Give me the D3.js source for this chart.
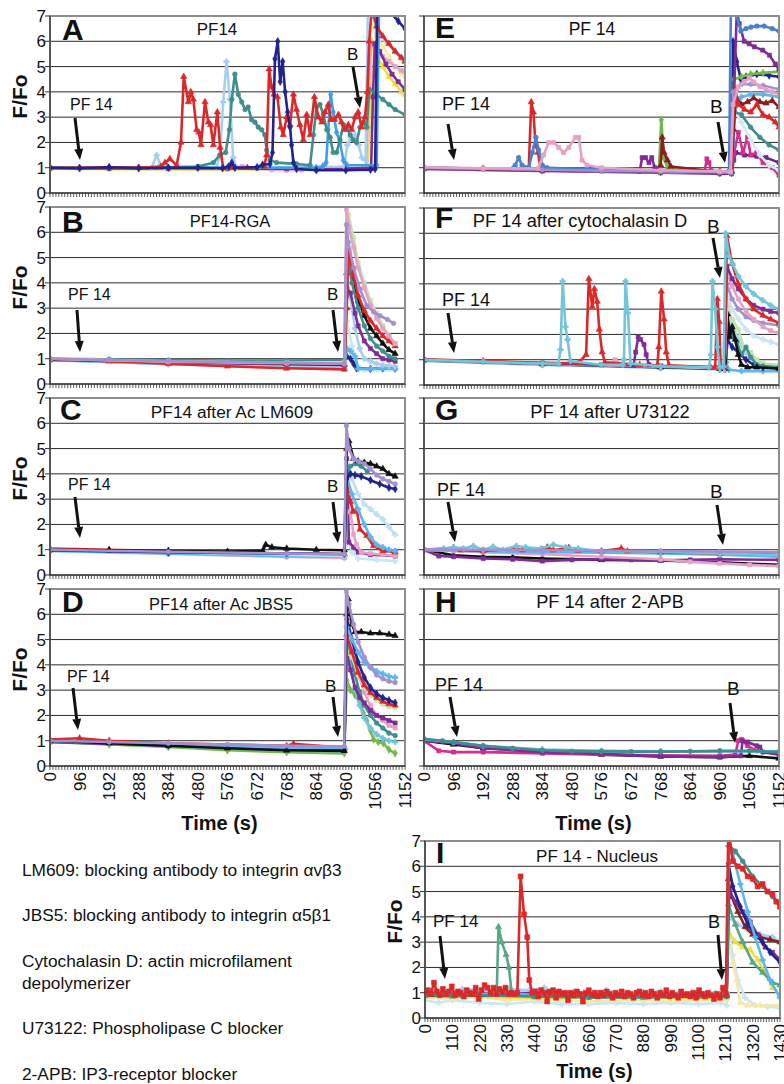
<!DOCTYPE html>
<html><head><meta charset="utf-8">
<script src="https://cdn.jsdelivr.net/npm/d3@7"></script>
<style>body{margin:0;background:#fff}svg{display:block}text{font-family:"Liberation Sans",Arial,sans-serif;fill:#111}</style>
</head><body><svg id="c" width="784" height="1084"></svg>
<script>
// ---------------- DATA ----------------
const yTickValues = [0,1,2,3,4,5,6,7];
const xTickLabels1152 = [0,96,192,288,384,480,576,672,768,864,960,1056,1152];
const xTickLabels1430 = [0,110,220,330,440,550,660,770,880,990,1100,1210,1320,1430];
const panelTitles = ["PF14","PF14-RGA","PF14 after Ac LM609","PF14 after Ac JBS5","PF 14","PF 14 after cytochalasin D","PF 14 after U73122","PF 14 after 2-APB","PF 14 - Nucleus"];
const panelLetters = ["A","B","C","D","E","F","G","H","I"];
const notes = ["LM609: blocking antibody to integrin \u03b1v\u03b23","JBS5: blocking antibody to integrin \u03b15\u03b21","Cytochalasin D: actin microfilament","depolymerizer","U73122: Phospholipase C blocker","2-APB: IP3-receptor blocker"];

// Panel A
const A_lightyellow=[[0,0.95],[192,0.94],[384,0.93],[576,0.92],[768,0.93],[960,0.94],[1030,0.96],[1040,6.6],[1060,6.2],[1080,5.8],[1100,5.4],[1120,5.0],[1140,4.7],[1152,4.6]];
const A_yellow=[[0,0.96],[192,0.95],[384,0.94],[576,0.95],[768,0.96],[960,0.97],[1030,1.0],[1036,2.6],[1044,6.0],[1060,5.4],[1080,5.0],[1100,4.6],[1120,4.3],[1140,4.0],[1152,3.9]];
const A_pink=[[0,1.0],[96,0.99],[192,0.98],[288,0.99],[384,0.98],[480,0.97],[576,0.98],[624,1.05],[672,0.96],[720,0.92],[768,0.9],[816,0.91],[864,0.92],[960,0.95],[1025,0.96],[1034,4.2],[1042,5.9],[1060,5.6],[1080,5.4],[1100,5.2],[1120,5.0],[1140,4.85],[1152,4.8]];
const A_purple=[[0,0.98],[192,0.97],[384,0.98],[576,0.97],[768,0.96],[960,0.97],[1042,1.0],[1048,3.8],[1054,5.9],[1070,5.6],[1090,5.1],[1110,4.7],[1130,4.4],[1152,4.1]];
const A_lightblue=[[0,1.0],[192,1.0],[330,1.0],[346,1.5],[358,1.1],[372,1.0],[540,1.0],[551,1.5],[562,3.6],[573,5.2],[584,3.7],[594,1.4],[605,1.0],[955,1.05],[965,1.9],[976,2.2],[990,2.3],[1002,1.9],[1012,1.4],[1024,1.3],[1032,7.6],[1060,6.5],[1090,6.0],[1120,5.6],[1152,5.3]];
const A_medblue=[[0,1.0],[288,1.0],[576,1.0],[864,1.0],[885,1.05],[896,1.2],[903,2.5],[911,3.9],[919,3.2],[930,2.4],[941,2.0],[952,1.3],[963,1.1],[1060,1.1],[1068,7.6],[1152,7.4]];
const A_teal=[[0,1.0],[192,1.0],[384,1.02],[480,1.05],[530,1.2],[551,1.5],[570,1.6],[582,2.5],[590,3.7],[600,4.7],[611,3.9],[622,3.6],[633,3.3],[643,3.4],[654,2.9],[665,2.8],[676,2.6],[687,2.5],[697,2.3],[703,1.7],[714,1.3],[735,1.2],[800,1.15],[844,1.1],[855,2.3],[865,3.4],[876,3.5],[887,3.1],[898,2.5],[909,2.2],[919,1.6],[930,1.6],[941,2.1],[952,2.7],[963,2.6],[974,2.3],[984,2.1],[995,2.0],[1006,2.6],[1017,2.8],[1028,2.6],[1036,4.1],[1060,3.9],[1080,3.7],[1100,3.5],[1120,3.3],[1152,3.1]];
const A_red=[[0,1.0],[96,1.0],[192,1.02],[288,1.0],[360,1.05],[373,1.2],[389,1.35],[411,1.1],[425,2.0],[434,4.6],[449,3.6],[457,4.0],[465,3.7],[476,2.5],[483,2.4],[490,1.9],[503,3.6],[514,2.8],[521,2.7],[530,1.9],[543,3.2],[552,1.8],[562,1.0],[640,1.0],[695,1.05],[703,1.5],[711,4.9],[719,4.2],[727,3.9],[738,3.8],[749,2.6],[757,2.3],[768,3.0],[779,2.7],[790,3.9],[800,3.3],[811,2.7],[822,2.1],[833,3.1],[844,2.3],[858,3.8],[871,3.0],[882,2.8],[892,3.2],[903,3.5],[912,2.9],[923,2.9],[936,3.1],[946,2.8],[957,2.5],[968,2.7],[979,2.5],[990,3.0],[1000,3.2],[1011,2.6],[1022,3.0],[1030,4.0],[1036,6.0],[1044,7.3],[1060,6.6],[1080,6.2],[1100,5.9],[1120,5.6],[1140,5.35],[1152,5.2]];
const A_navy=[[0,1.0],[96,0.98],[192,1.02],[288,0.98],[384,1.0],[480,1.0],[560,0.98],[580,1.05],[590,1.2],[600,1.0],[672,1.02],[690,1.12],[714,1.15],[722,1.6],[730,5.3],[739,6.0],[747,4.4],[755,5.2],[763,4.0],[771,3.2],[779,2.6],[784,1.9],[790,1.2],[800,0.95],[864,0.9],[960,0.9],[1040,0.92],[1055,0.95],[1062,7.6],[1100,7.2],[1130,6.8],[1152,6.5]];

// Panel B
const B_lavenderBase=[[0,1.0],[192,0.95],[384,0.9],[576,0.87],[768,0.85],[955,0.8],[962,6.3],[968,5.6],[985,4.6],[1006,3.75],[1028,3.1],[1050,2.85],[1071,2.7],[1095,2.55],[1115,2.4]];
const B_red=[[0,1.0],[192,0.9],[384,0.8],[576,0.7],[768,0.62],[955,0.58],[963,3.0],[968,5.3],[985,4.3],[1000,3.5],[1020,2.9],[1040,2.5],[1060,2.2],[1080,1.9],[1100,1.7],[1120,1.5]];
const B_teal=[[0,1.0],[192,0.98],[384,0.95],[576,0.93],[768,0.93],[955,0.95],[963,3.5],[966,5.0],[980,4.0],[1000,3.0],[1020,2.3],[1040,1.8],[1060,1.5],[1080,1.3],[1100,1.1],[1120,1.0]];
const B_lightgreen=[[0,1.0],[384,0.9],[768,0.85],[955,0.85],[963,6.0],[968,6.7],[985,5.8],[1000,4.8],[1020,4.0],[1040,3.3],[1060,2.8],[1080,2.3],[1100,1.9],[1120,1.6]];
const B_pink=[[0,1.0],[384,0.88],[768,0.82],[955,0.8],[962,6.9],[970,6.2],[985,5.4],[1000,4.6],[1020,3.8],[1040,3.1],[1060,2.6],[1080,2.2],[1100,1.9],[1120,1.6]];
const B_black=[[0,0.98],[384,0.88],[768,0.8],[955,0.78],[963,4.4],[970,4.6],[985,4.0],[1000,3.3],[1020,2.7],[1040,2.2],[1060,1.9],[1080,1.6],[1100,1.35],[1120,1.2]];
const B_purple=[[0,0.95],[384,0.85],[768,0.78],[955,0.75],[963,3.8],[975,3.6],[990,2.8],[1000,2.3],[1020,1.7],[1040,1.4],[1060,1.2],[1080,1.0],[1100,0.95],[1120,0.9]];
const B_lightblue=[[0,0.95],[384,0.8],[768,0.7],[955,0.68],[963,4.0],[975,3.4],[990,2.2],[1005,1.4],[1020,1.0],[1040,0.9],[1060,0.8],[1080,0.75],[1100,0.72],[1120,0.7]];
const B_sky=[[0,0.95],[384,0.78],[768,0.66],[955,0.62],[963,1.4],[975,1.3],[990,1.1],[1000,0.6],[1040,0.6],[1080,0.62],[1120,0.6]];
const B_navy=[[0,0.98],[384,0.85],[768,0.75],[955,0.72],[963,1.1],[975,1.0],[985,0.8],[995,0.62],[1040,0.6],[1080,0.62],[1120,0.62]];
const B_palecyan=[[0,0.95],[384,0.8],[768,0.68],[955,0.6],[963,2.5],[980,1.5],[1000,0.7],[1020,0.55],[1060,0.55],[1120,0.55]];

// Panel C
const C_black=[[0,1.0],[192,0.98],[384,0.95],[576,0.93],[690,0.95],[700,1.2],[720,1.1],[768,1.05],[864,1.0],[955,0.98],[963,5.0],[970,5.3],[985,4.6],[1000,4.5],[1020,4.45],[1040,4.4],[1060,4.3],[1080,4.2],[1100,4.0],[1120,3.9]];
const C_lavender=[[0,1.0],[384,0.92],[768,0.85],[955,0.82],[962,5.9],[970,5.0],[985,4.6],[1000,4.5],[1020,4.4],[1040,4.2],[1060,3.95],[1080,3.8],[1100,3.7],[1120,3.6]];
const C_navy=[[0,0.98],[384,0.9],[768,0.85],[955,0.83],[963,3.8],[975,4.0],[990,3.95],[1010,3.9],[1040,3.75],[1070,3.6],[1100,3.45],[1120,3.4]];
const C_teal=[[0,0.98],[384,0.9],[768,0.85],[955,0.82],[963,4.0],[975,4.3],[990,4.4],[1010,4.3],[1030,4.1]];
const C_lightcyan=[[0,1.0],[384,0.9],[768,0.8],[955,0.75],[963,4.4],[980,3.8],[1000,3.2],[1020,2.8],[1040,2.6],[1060,2.4],[1080,2.2],[1100,1.9],[1120,1.6]];
const C_sky=[[0,0.95],[384,0.85],[768,0.75],[955,0.72],[963,3.9],[980,3.2],[1000,2.6],[1020,2.0],[1040,1.5],[1060,1.2],[1080,1.1],[1100,1.0],[1120,0.95]];
const C_red=[[0,1.05],[192,1.0],[384,0.95],[768,0.85],[955,0.82],[965,3.5],[975,2.9],[984,2.5],[995,2.6],[1006,1.8],[1028,1.55],[1050,1.15],[1080,0.95],[1120,0.9]];
const C_pink=[[0,0.98],[384,0.85],[768,0.72],[955,0.68],[963,2.5],[975,2.5],[985,1.6],[995,1.2],[1010,0.9],[1040,0.85],[1080,0.8],[1120,0.75]];
const C_purple=[[0,0.98],[384,0.87],[768,0.78],[955,0.75],[963,4.6],[970,1.3],[985,1.1],[1000,0.9],[1040,0.8],[1120,0.75]];
const C_palecyan=[[0,0.95],[384,0.82],[768,0.72],[955,0.65],[963,1.5],[980,0.9],[1000,0.65],[1060,0.6],[1120,0.55]];

// Panel D
const D_black=[[0,1.0],[192,0.9],[384,0.8],[576,0.7],[768,0.62],[955,0.6],[963,6.0],[968,6.6],[980,5.6],[990,5.3],[1010,5.3],[1040,5.25],[1070,5.25],[1100,5.2],[1120,5.15]];
const D_lavender=[[0,1.0],[192,0.95],[384,0.9],[576,0.85],[768,0.8],[955,0.78],[961,7.0],[970,6.4],[985,5.6],[1000,4.9],[1020,4.3],[1040,3.9],[1060,3.6],[1080,3.45],[1100,3.35],[1120,3.3]];
const D_sky=[[0,0.98],[384,0.85],[768,0.72],[955,0.7],[963,5.5],[980,5.0],[1000,4.5],[1020,4.1],[1040,3.9],[1060,3.75],[1080,3.65],[1100,3.55],[1120,3.5]];
const D_navy=[[0,0.98],[384,0.82],[768,0.7],[955,0.68],[963,5.8],[980,5.0],[1000,4.1],[1020,3.5],[1040,3.1],[1060,2.85],[1080,2.7],[1100,2.6],[1120,2.5]];
const D_red=[[0,1.05],[96,1.1],[192,1.0],[384,0.9],[768,0.8],[790,0.88],[955,0.72],[963,5.2],[980,4.5],[1000,3.7],[1020,3.2],[1040,2.9],[1060,2.7],[1080,2.55],[1100,2.45],[1120,2.4]];
const D_lightgreen=[[0,0.98],[384,0.85],[768,0.72],[955,0.7],[963,4.5],[980,4.3],[1000,3.6],[1020,3.1],[1040,2.8],[1060,2.6],[1080,2.45],[1100,2.35],[1120,2.3]];
const D_purple=[[0,0.95],[384,0.8],[768,0.68],[955,0.65],[963,4.5],[975,3.8],[990,3.1],[1005,2.7],[1020,2.5],[1040,2.2],[1060,2.0],[1080,1.9],[1100,1.8],[1120,1.7]];
const D_pink=[[0,0.98],[384,0.82],[768,0.7],[955,0.66],[962,6.9],[975,5.2],[990,4.3],[1005,3.5],[1020,2.9],[1040,2.4],[1060,2.0],[1080,1.8],[1100,1.6],[1120,1.5]];
const D_teal=[[0,0.96],[384,0.8],[768,0.66],[955,0.62],[963,5.2],[975,4.5],[990,3.6],[1005,2.9],[1020,2.4],[1040,2.0],[1060,1.7],[1080,1.5],[1100,1.3],[1120,1.2]];
const D_cyan=[[0,0.95],[384,0.78],[768,0.62],[955,0.58],[963,4.8],[975,4.0],[990,3.0],[1005,2.4],[1020,1.9],[1040,1.5],[1060,1.25],[1080,1.1],[1100,1.0],[1120,0.95]];
const D_green=[[0,0.95],[192,0.85],[384,0.75],[576,0.62],[768,0.55],[955,0.5],[963,3.4],[975,3.0],[990,2.8],[1006,2.5],[1017,2.1],[1028,1.8],[1040,1.4],[1050,1.05],[1065,0.95],[1082,0.9],[1100,0.65],[1120,0.5]];

// Panel E
const E_lavender=[[0,1.0],[192,0.96],[384,0.92],[576,0.88],[768,0.85],[960,0.82],[995,0.8],[1003,4.0],[1030,4.3],[1060,4.3],[1100,4.25],[1152,4.1]];
const E_pink=[[0,1.02],[192,0.98],[370,0.97],[388,1.5],[405,2.0],[421,2.0],[437,1.8],[453,1.6],[470,1.8],[491,2.2],[502,2.2],[513,1.3],[529,1.1],[576,1.0],[768,0.9],[960,0.86],[995,0.85],[1003,3.5],[1020,4.2],[1040,4.4],[1055,4.55],[1070,4.4],[1090,4.2],[1110,4.1],[1130,4.0],[1152,3.9]];
const E_blue=[[0,1.0],[192,0.97],[290,0.98],[296,1.1],[307,1.4],[318,1.1],[340,1.0],[352,1.6],[363,2.2],[372,1.7],[384,1.1],[400,1.0],[576,0.93],[768,0.88],[960,0.84],[990,0.85],[996,7.5],[1010,7.2],[1028,6.4],[1045,6.5],[1061,6.56],[1080,6.6],[1104,6.6],[1130,6.5],[1152,6.4]];
const E_red=[[0,1.0],[192,0.97],[330,0.96],[340,1.0],[348,3.6],[355,3.2],[362,1.9],[370,1.6],[378,1.0],[576,0.92],[768,0.88],[960,0.85],[990,0.85],[996,1.0],[1003,3.0],[1010,4.1],[1020,3.5],[1040,3.3],[1060,3.2],[1080,3.5],[1100,3.1],[1120,3.0],[1140,2.8],[1152,2.6]];
const E_purple=[[0,0.98],[192,0.95],[384,0.9],[576,0.87],[700,0.86],[708,1.4],[719,1.4],[730,1.2],[739,1.4],[749,1.0],[768,0.85],[960,0.82],[995,0.82],[1005,3.5],[1015,7.2],[1023,6.7],[1039,6.0],[1055,5.9],[1072,5.78],[1099,5.65],[1121,5.45],[1140,5.1],[1152,4.9]];
const E_brown=[[0,0.98],[384,0.9],[760,0.86],[768,1.1],[773,2.2],[779,1.6],[790,1.3],[801,1.05],[960,0.83],[998,0.85],[1005,2.5],[1012,3.8],[1030,3.5],[1050,3.6],[1070,3.75],[1090,3.6],[1110,3.55],[1130,3.65],[1152,3.4]];
const E_green=[[0,1.0],[384,0.92],[762,0.88],[770,2.9],[778,1.4],[790,1.0],[960,0.85],[998,0.86],[1006,4.5],[1030,4.6],[1060,4.7],[1100,4.75],[1152,4.8]];
const E_navy=[[0,0.98],[384,0.9],[768,0.84],[960,0.8],[998,0.8],[1003,6.0],[1015,5.2],[1028,4.5],[1045,4.6],[1080,4.7],[1120,4.65],[1152,4.6]];
const E_sky=[[0,0.98],[384,0.9],[768,0.84],[960,0.8],[998,0.82],[1010,3.4],[1030,3.8],[1060,3.9],[1100,3.9],[1152,3.8]];
const E_teal=[[0,1.0],[384,0.92],[768,0.86],[960,0.82],[998,0.84],[1008,3.2],[1030,3.1],[1060,2.6],[1090,2.2],[1120,1.9],[1152,1.7]];
const E_pale=[[0,0.98],[384,0.9],[768,0.83],[960,0.8],[998,0.8],[1003,3.4],[1030,2.8],[1060,2.1],[1090,1.5],[1120,1.1],[1152,0.9]];
const E_magenta=[[0,0.97],[384,0.9],[768,0.84],[910,0.84],[918,1.35],[925,1.2],[932,0.88],[990,0.85],[996,0.9],[1005,1.5],[1020,2.4],[1035,1.6],[1050,2.2],[1060,1.5],[1080,1.6],[1100,1.2],[1130,1.0],[1152,0.7]];
const E_darkpurple=[[0,0.95],[384,0.87],[768,0.8],[960,0.76],[998,0.76],[1005,1.3],[1012,1.6],[1040,1.5],[1080,1.45],[1110,1.4],[1152,1.2]];

// Panel F
const F_cyan=[[0,1.0],[192,0.92],[384,0.85],[436,0.84],[443,1.4],[450,4.1],[459,2.3],[466,1.8],[475,0.95],[576,0.8],[645,0.8],[649,1.0],[654,4.1],[662,2.85],[670,0.85],[768,0.74],[925,0.7],[931,1.2],[936,4.1],[945,3.0],[952,1.5],[960,0.7],[972,0.72],[979,6.0],[990,5.1],[1001,4.8],[1020,4.3],[1045,3.9],[1070,3.6],[1099,3.35],[1125,3.15],[1152,3.0]];
const F_red=[[0,1.02],[192,0.95],[384,0.88],[500,0.86],[526,1.2],[535,4.2],[546,3.1],[553,3.8],[562,3.3],[569,2.2],[578,1.3],[587,0.9],[700,0.8],[757,0.78],[762,1.5],[770,3.7],[779,2.6],[786,1.3],[795,0.78],[930,0.7],[945,0.72],[952,3.4],[958,2.5],[963,0.7],[975,0.75],[983,5.9],[1000,4.8],[1020,4.0],[1045,3.4],[1070,3.0],[1100,2.75],[1125,2.6],[1152,2.45]];
const F_purple=[[0,1.0],[192,0.93],[384,0.86],[576,0.8],[680,0.78],[687,1.3],[695,1.9],[703,1.8],[714,1.6],[721,1.2],[730,0.8],[768,0.76],[960,0.7],[975,0.7],[983,4.7],[1000,4.2],[1020,3.8],[1045,3.4],[1070,3.15],[1100,3.0],[1125,2.9],[1152,2.85]];
const F_pink=[[0,1.0],[192,0.92],[384,0.86],[576,0.8],[605,0.82],[620,1.0],[640,0.82],[768,0.75],[960,0.7],[975,0.72],[983,4.4],[1000,3.9],[1020,3.4],[1045,2.9],[1070,2.6],[1100,2.3],[1125,2.15],[1152,2.05]];
const F_lavender=[[0,1.0],[192,0.93],[384,0.87],[576,0.8],[768,0.74],[960,0.68],[975,0.68],[982,4.0],[1000,3.4],[1020,3.0],[1045,2.7],[1070,2.55],[1100,2.45],[1152,2.35]];
const F_paleblue=[[0,0.98],[384,0.84],[768,0.72],[960,0.66],[975,0.66],[985,3.5],[1000,3.0],[1020,2.6],[1045,2.2],[1070,1.95],[1100,1.8],[1125,1.7],[1152,1.6]];
const F_black=[[0,0.98],[384,0.83],[768,0.7],[960,0.64],[978,0.65],[985,2.8],[992,1.9],[1000,2.3],[1010,1.8],[1020,1.2],[1030,0.8],[1050,0.7],[1080,0.7],[1152,0.65]];
const F_teal=[[0,0.97],[384,0.83],[768,0.7],[960,0.64],[978,0.64],[985,2.4],[1000,2.0],[1015,1.7],[1030,1.2],[1045,1.5],[1060,1.1],[1080,0.8],[1100,0.75],[1152,0.7]];
const F_lightgreen=[[0,0.97],[384,0.82],[768,0.7],[960,0.64],[978,0.64],[985,3.0],[1000,2.6],[1020,2.2],[1040,1.4],[1060,1.3],[1080,1.0],[1100,0.85],[1152,0.8]];
const F_lightblue=[[0,0.96],[384,0.8],[768,0.68],[960,0.62],[978,0.62],[985,3.3],[1000,2.4],[1020,1.8],[1040,1.3],[1060,1.1],[1080,0.9],[1100,0.8],[1152,0.7]];
const F_sky=[[0,0.96],[384,0.8],[768,0.68],[960,0.62],[975,0.6],[980,0.9],[990,0.6],[1030,0.55],[1100,0.55],[1152,0.55]];
const F_navy=[[0,0.97],[384,0.82],[768,0.7],[960,0.64],[978,0.64],[985,1.8],[1000,1.5],[1020,1.3],[1045,1.0],[1070,0.8],[1100,0.7],[1152,0.65]];

// Panel G
const G_lavender=[[0,1.02],[192,1.0],[384,0.98],[576,0.96],[768,0.95],[960,0.93],[1152,0.9]];
const G_pink=[[0,1.0],[96,0.95],[192,0.9],[384,0.82],[576,0.72],[768,0.62],[864,0.52],[960,0.46],[1056,0.4],[1152,0.35]];
const G_purple=[[0,1.0],[48,0.75],[96,0.72],[192,0.65],[288,0.62],[384,0.55],[480,0.6],[576,0.62],[672,0.6],[768,0.58],[864,0.6],[960,0.62],[1152,0.6]];
const G_black=[[0,1.0],[96,0.78],[192,0.72],[288,0.7],[384,0.65],[576,0.6],[768,0.58],[960,0.5],[1152,0.4]];
const G_cyan=[[0,1.0],[64,1.05],[96,1.1],[128,1.05],[160,1.15],[192,1.0],[224,1.12],[256,1.0],[300,1.15],[330,1.1],[380,1.05],[420,1.2],[460,1.1],[500,1.05],[576,0.95],[768,0.92],[960,0.85],[1152,0.78]];
const G_sky=[[0,0.98],[192,0.94],[384,0.9],[576,0.88],[768,0.85],[960,0.8],[1152,0.72]];
const G_red=[[0,1.0],[96,1.08],[120,0.98],[192,0.95],[296,1.05],[320,0.98],[400,1.1],[420,0.98],[470,1.08],[500,0.97],[576,0.95],[640,1.05],[660,0.94],[768,0.9],[960,0.85],[1152,0.8]];

// Panel H
const H_black=[[0,1.0],[96,0.85],[192,0.7],[384,0.6],[576,0.45],[768,0.38],[960,0.35],[1056,0.4],[1152,0.3]];
const H_magenta=[[0,1.0],[48,0.6],[96,0.55],[192,0.55],[384,0.5],[576,0.45],[768,0.42],[960,0.4],[1010,0.45],[1020,1.0],[1030,1.05],[1050,0.8],[1080,0.6],[1152,0.5]];
const H_purple=[[0,1.0],[96,0.9],[192,0.7],[384,0.55],[576,0.48],[768,0.38],[960,0.35],[1028,0.4],[1034,1.0],[1050,0.95],[1080,0.8],[1090,0.75],[1100,0.55],[1152,0.45]];
const H_sky=[[0,1.05],[96,0.95],[192,0.8],[384,0.65],[576,0.6],[768,0.58],[960,0.58],[1152,0.58]];
const H_teal=[[0,1.08],[60,1.0],[96,0.95],[192,0.8],[288,0.7],[384,0.62],[480,0.58],[576,0.58],[672,0.57],[768,0.57],[864,0.58],[960,0.6],[1056,0.6],[1152,0.55]];

// Panel I
const I_paleblue=[[0,0.7],[55,0.6],[110,0.7],[220,0.6],[330,0.55],[440,0.65],[550,0.55],[660,0.55],[770,0.6],[880,0.55],[990,0.6],[1100,0.55],[1190,0.6],[1215,0.5],[1222,3.5],[1240,2.5],[1260,1.5],[1290,0.8],[1330,0.5],[1380,0.45],[1430,0.4]];
const I_paleyellow=[[0,0.8],[110,0.75],[220,0.85],[330,0.7],[440,0.75],[550,0.7],[660,0.65],[770,0.7],[880,0.7],[990,0.65],[1100,0.7],[1215,0.7],[1222,3.0],[1240,2.2],[1255,1.5],[1270,0.6],[1300,0.5],[1350,0.5],[1430,0.5]];
const I_lightblue=[[0,1.0],[40,1.1],[80,0.9],[150,1.15],[220,1.1],[280,1.05],[340,1.15],[420,1.1],[480,1.2],[530,1.0],[600,1.05],[680,1.0],[730,1.1],[800,0.95],[880,1.0],[950,1.05],[1020,0.95],[1100,1.05],[1170,1.0],[1215,1.0],[1222,4.0],[1260,3.7],[1300,3.5],[1350,3.3],[1400,3.2],[1430,3.0]];
const I_sky=[[0,0.9],[110,1.0],[220,0.95],[330,1.0],[440,0.9],[550,0.95],[660,0.9],[770,0.95],[880,0.9],[990,0.95],[1100,0.9],[1215,0.95],[1222,6.8],[1240,6.5],[1270,5.3],[1300,4.2],[1330,3.2],[1360,2.3],[1390,1.5],[1430,0.8]];
const I_green=[[0,0.9],[110,0.85],[220,0.9],[280,0.95],[289,1.0],[296,3.6],[309,3.0],[327,2.5],[338,2.0],[349,1.0],[440,0.85],[660,0.8],[880,0.8],[1100,0.85],[1215,0.85],[1222,4.5],[1250,3.7],[1280,3.0],[1320,2.2],[1360,1.8],[1400,1.4],[1430,1.3]];
const I_teal=[[0,0.9],[220,0.9],[440,0.85],[660,0.85],[880,0.85],[1100,0.85],[1215,0.9],[1225,6.8],[1250,6.6],[1280,6.2],[1320,5.6],[1360,5.2],[1400,4.8],[1430,4.5]];
const I_navy=[[0,0.95],[220,0.9],[440,0.9],[660,0.88],[880,0.9],[1100,0.9],[1215,0.9],[1222,6.1],[1240,5.2],[1270,4.4],[1300,3.7],[1330,3.3],[1360,3.0],[1390,2.6],[1430,2.2]];
const I_purple=[[0,0.95],[220,0.95],[440,1.0],[500,1.05],[660,0.95],[880,0.9],[1100,0.95],[1215,0.9],[1225,5.0],[1250,4.6],[1280,4.2],[1310,3.8],[1340,3.3],[1370,2.8],[1400,2.6],[1430,2.3]];
const I_brown=[[0,0.9],[440,0.9],[880,0.9],[1215,0.9],[1222,5.5],[1235,4.8],[1260,4.2],[1290,3.6],[1320,3.3],[1350,3.2],[1390,3.1],[1430,3.0]];
const I_yellow=[[0,0.85],[440,0.8],[880,0.8],[1215,0.8],[1222,3.4],[1250,3.0],[1280,2.8],[1310,2.7],[1340,2.3],[1370,1.8],[1400,1.2],[1430,0.9]];
const I_red=[[0,1.0],[12,1.1],[24,0.95],[36,1.4],[48,1.05],[60,0.9],[72,1.15],[84,0.95],[96,1.05],[108,1.25],[120,0.9],[132,1.05],[144,1.0],[156,0.85],[168,1.1],[180,1.0],[192,0.95],[204,1.2],[216,0.75],[228,1.1],[240,1.3],[252,1.2],[264,1.0],[276,1.2],[288,0.95],[300,1.15],[312,1.05],[324,1.2],[336,0.95],[348,1.0],[360,0.95],[372,1.0],[385,5.6],[399,4.1],[412,3.2],[420,1.5],[432,1.0],[444,1.05],[456,0.85],[468,1.1],[480,1.0],[492,0.65],[504,1.0],[516,1.1],[528,0.8],[540,1.05],[552,0.95],[564,1.0],[576,0.7],[588,1.0],[600,0.9],[612,1.05],[624,0.95],[636,0.65],[648,1.0],[660,1.1],[672,0.9],[684,1.0],[696,0.85],[708,1.0],[720,0.9],[732,1.05],[744,0.95],[756,0.8],[768,1.0],[780,0.9],[792,1.05],[804,0.85],[816,1.0],[828,0.95],[840,0.8],[852,1.0],[864,1.05],[876,0.9],[888,1.0],[900,0.85],[912,1.05],[924,0.95],[936,0.8],[948,1.0],[960,0.9],[972,1.1],[984,0.85],[996,1.0],[1008,0.9],[1020,0.8],[1032,1.05],[1044,0.9],[1056,0.95],[1068,0.85],[1080,1.0],[1092,0.8],[1104,1.1],[1116,0.95],[1128,0.85],[1140,1.0],[1152,0.9],[1164,0.75],[1176,0.95],[1188,0.8],[1200,1.2],[1212,0.95],[1222,7.5],[1240,6.2],[1260,6.0],[1280,5.9],[1300,5.6],[1320,5.5],[1340,5.2],[1360,5.3],[1380,5.0],[1400,4.9],[1415,4.6],[1430,4.4]];

// ---------------- STYLE ----------------
const styles = {
  navy:{c:"#23238e",s:d3.symbolDiamond}, red:{c:"#dc2828",s:d3.symbolTriangle}, redsq:{c:"#dc2828",s:d3.symbolSquare},
  lightblue:{c:"#a8cff2",s:d3.symbolCross}, medblue:{c:"#3f9ce8",s:d3.symbolDiamond}, teal:{c:"#3f8e8c",s:d3.symbolCircle},
  pink:{c:"#e4a2c6",s:d3.symbolSquare}, yellow:{c:"#f5dc3c",s:d3.symbolTriangle}, lightyellow:{c:"#f5eda8",s:d3.symbolSquare},
  purple:{c:"#7e2d97",s:d3.symbolSquare}, lavender:{c:"#a48fcf",s:d3.symbolCircle}, black:{c:"#111111",s:d3.symbolTriangle},
  lightgreen:{c:"#c4e2ac",s:d3.symbolSquare}, sky:{c:"#5db6ef",s:d3.symbolCross}, palecyan:{c:"#c8e7f2",s:d3.symbolCross},
  cyan:{c:"#72c5da",s:d3.symbolCross}, magenta:{c:"#d42e8e",s:d3.symbolSquare}, brown:{c:"#8c1e1e",s:d3.symbolTriangle},
  green:{c:"#72b84c",s:d3.symbolDiamond}, blue:{c:"#4a80d0",s:d3.symbolCircle}, mint:{c:"#56a882",s:d3.symbolTriangle},
  darkpurple:{c:"#6a2a88",s:d3.symbolSquare}, paleyellow:{c:"#f3eaa6",s:d3.symbolTriangle}, paleblue:{c:"#cfe4f4",s:d3.symbolCross},
  pale:{c:"#d2ebf5",s:d3.symbolCross}, lightcyan:{c:"#bfe2ee",s:d3.symbolCross}
};

const panels = [
 {id:"A",px:50,py:16,xmax:1152,ylab:true,xlab:false,tfs:17,afs:16,series:[["lightyellow",A_lightyellow],["yellow",A_yellow],["pink",A_pink],["purple",A_purple],["lightblue",A_lightblue],["medblue",A_medblue],["teal",A_teal],["red",A_red],["navy",A_navy]],
  letter:[12,24],title:[167,19],pf:[20,94],pfA:[[25,102],[30,144]],b:[297,44],bA:[[303,51],[310,92]]},
 {id:"B",px:50,py:207,xmax:1152,ylab:true,xlab:false,tfs:16.5,afs:16,series:[["palecyan",B_palecyan],["navy",B_navy],["sky",B_sky],["lightblue",B_lightblue],["purple",B_purple],["black",B_black],["teal",B_teal],["red",B_red],["lightgreen",B_lightgreen],["pink",B_pink],["lavender",B_lavenderBase]],
  letter:[12,25],title:[180,20],pf:[18,93],pfA:[[27,103],[30,145]],b:[277,93],bA:[[283,103],[288,145]]},
 {id:"C",px:50,py:398,xmax:1152,ylab:true,xlab:false,tfs:17.3,afs:16,series:[["palecyan",C_palecyan],["purple",C_purple],["pink",C_pink],["red",C_red],["sky",C_sky],["lightcyan",C_lightcyan],["teal",C_teal],["navy",C_navy],["black",C_black],["lavender",C_lavender]],
  letter:[10,22],title:[182,20],pf:[18,92],pfA:[[25,99],[30,140]],b:[277,94],bA:[[283,104],[288,145]]},
 {id:"D",px:50,py:589,xmax:1152,ylab:true,xlab:true,tfs:16.5,afs:16,series:[["green",D_green],["cyan",D_cyan],["teal",D_teal],["pink",D_pink],["purple",D_purple],["lightgreen",D_lightgreen],["red",D_red],["navy",D_navy],["sky",D_sky],["black",D_black],["lavender",D_lavender]],
  letter:[12,23],title:[171,21],pf:[17,93],pfA:[[23,99],[28,141]],b:[275,103],bA:[[283,108],[288,148]]},
 {id:"E",px:424,py:16,xmax:1152,ylab:false,xlab:false,tfs:17.5,afs:18,series:[["darkpurple",E_darkpurple],["magenta",E_magenta],["pale",E_pale],["teal",E_teal],["sky",E_sky],["navy",E_navy],["green",E_green],["brown",E_brown],["purple",E_purple],["red",E_red],["blue",E_blue],["lavender",E_lavender],["pink",E_pink]],
  letter:[11,22],title:[168,19],pf:[18,94],pfA:[[24,108],[30,144]],b:[286,97],bA:[[294,106],[301,147]]},
 {id:"F",px:424,py:208,xmax:1152,ylab:false,xlab:false,tfs:18.3,afs:18,series:[["sky",F_sky],["navy",F_navy],["lightblue",F_lightblue],["lightgreen",F_lightgreen],["teal",F_teal],["black",F_black],["paleblue",F_paleblue],["lavender",F_lavender],["pink",F_pink],["purple",F_purple],["red",F_red],["cyan",F_cyan]],
  letter:[11,20],title:[156,19],pf:[18,98],pfA:[[24,105],[30,145]],b:[283,25],bA:[[289,30],[296,70]]},
 {id:"G",px:424,py:398,xmax:1152,ylab:false,xlab:false,tfs:18.3,afs:18,series:[["black",G_black],["purple",G_purple],["pink",G_pink],["sky",G_sky],["red",G_red],["cyan",G_cyan],["lavender",G_lavender]],
  letter:[11,22],title:[186,20],pf:[13,98],pfA:[[24,104],[31,144]],b:[286,100],bA:[[293,107],[299,147]]},
 {id:"H",px:424,py:589,xmax:1152,ylab:false,xlab:true,tfs:18.2,afs:18,series:[["black",H_black],["magenta",H_magenta],["purple",H_purple],["sky",H_sky],["teal",H_teal]],
  letter:[11,23],title:[186,19],pf:[11,102],pfA:[[26,108],[33,148]],b:[303,106],bA:[[306,114],[311,154]]},
 {id:"I",px:425,py:841,xmax:1430,ylab:true,xlab:true,tfs:17,afs:17,series:[["paleblue",I_paleblue],["paleyellow",I_paleyellow],["lightblue",I_lightblue],["yellow",I_yellow],["mint",I_green],["brown",I_brown],["purple",I_purple],["navy",I_navy],["sky",I_sky],["teal",I_teal],["redsq",I_red]],
  letter:[11,22],title:[172,21],pf:[8,86],pfA:[[15,95],[20,138]],b:[283,87],bA:[[293,94],[297,139]]}
];

// ---------------- DRAW ----------------
const svg = d3.select("#c");
const W = 355, H = 177;

panels.forEach((p,i)=>{
  const g = svg.append("g").attr("transform",`translate(${p.px},${p.py})`);
  const x = d3.scaleLinear().domain([0,p.xmax]).range([0,W]);
  const y = d3.scaleLinear().domain([0,7]).range([H,0]);
  const step = p.xmax===1430 ? 11 : 9.6;
  g.selectAll(".gl").data(yTickValues.filter(v=>v>0&&v<7)).enter().append("line")
    .attr("x1",0).attr("x2",W).attr("y1",d=>y(d)).attr("y2",d=>y(d)).attr("stroke","#2a2a2a").attr("stroke-width",1);
  const cid = "clip"+p.id;
  g.append("clipPath").attr("id",cid).append("rect").attr("x",0).attr("y",0).attr("width",W).attr("height",H);
  const dg = g.append("g").attr("clip-path",`url(#${cid})`);
  const line = d3.line().x(d=>x(d[0])).y(d=>y(d[1]));
  p.series.forEach(([key,data])=>{
    const st = styles[key];
    dg.append("path").attr("d",line(data)).attr("fill","none").attr("stroke",st.c).attr("stroke-width",2.6).attr("stroke-linejoin","round");
    const sz = key==="redsq" ? 24 : 17;
    dg.selectAll(null).data(data).enter().append("path")
      .attr("d",d3.symbol().type(st.s).size(sz)())
      .attr("transform",d=>`translate(${x(d[0])},${y(d[1])})`)
      .attr("fill",st.c).attr("stroke", st.c).attr("stroke-width",0.6);
  });
  g.append("rect").attr("x",0).attr("y",0).attr("width",W).attr("height",H).attr("fill","none").attr("stroke","#8e8e8e").attr("stroke-width",2);
  g.append("line").attr("x1",0).attr("x2",0).attr("y1",0).attr("y2",H).attr("stroke","#333").attr("stroke-width",1.2);
  g.append("line").attr("x1",0).attr("x2",W).attr("y1",H).attr("y2",H).attr("stroke","#222").attr("stroke-width",1.2);
  g.selectAll(".yt").data(yTickValues).enter().append("line").attr("x1",-5).attr("x2",0).attr("y1",d=>y(d)).attr("y2",d=>y(d)).attr("stroke","#333");
  if(p.ylab){
    g.selectAll(".yl").data(yTickValues).enter().append("text").attr("x",-4).attr("y",d=>y(d)).attr("dy","0.35em")
      .attr("text-anchor","end").style("font-size","17px").text(d=>d);
    g.append("text").attr("transform",`translate(${-30},${H/2-8}) rotate(-90)`).attr("text-anchor","middle").attr("dy","0.35em")
      .style("font-size","21px").style("font-weight","bold").text("F/Fo");
  }
  g.selectAll(".xt").data(d3.range(0,p.xmax+0.01,step)).enter().append("line")
    .attr("x1",d=>x(d)).attr("x2",d=>x(d)).attr("y1",H).attr("y2",H+4).attr("stroke","#333").attr("stroke-width",0.8);
  if(p.xlab){
    const labs = p.xmax===1430 ? xTickLabels1430 : xTickLabels1152;
    g.selectAll(".xl").data(labs).enter().append("text")
      .attr("transform",d=>`translate(${x(d)},${H+6}) rotate(-90)`).attr("text-anchor","end").attr("dy","0.35em")
      .style("font-size","17px").text(d=>d);
    g.append("text").attr("x",W/2-8).attr("y",p.id==="I"?H+60:H+64).attr("text-anchor","middle").style("font-size","20px").style("font-weight","bold").text("Time (s)");
  }
  g.append("text").attr("x",p.letter[0]).attr("y",p.letter[1]).style("font-size", "30px").style("font-weight","bold").text(panelLetters[i]);
  g.append("text").attr("x",p.title[0]).attr("y",p.title[1]).attr("text-anchor","middle").style("font-size",p.tfs+"px").text(panelTitles[i]);
  g.append("text").attr("x",p.pf[0]).attr("y",p.pf[1]).style("font-size",p.afs+"px").text("PF 14");
  g.append("text").attr("x",p.b[0]).attr("y",p.b[1]).style("font-size",(p.afs+1)+"px").text("B");
  [p.pfA,p.bA].forEach(a=>{
    const [x1,y1]=a[0],[x2,y2]=a[1];
    const ang=Math.atan2(y2-y1,x2-x1), L=11, Wd=4.5;
    const bx=x2-L*Math.cos(ang), by=y2-L*Math.sin(ang);
    g.append("line").attr("x1",x1).attr("y1",y1).attr("x2",bx).attr("y2",by).attr("stroke","#111").attr("stroke-width",3);
    const qx=-Math.sin(ang), qy=Math.cos(ang);
    g.append("path").attr("d",`M${x2},${y2}L${bx+qx*Wd},${by+qy*Wd}L${bx-qx*Wd},${by-qy*Wd}Z`).attr("fill","#111");
  });
});

const noteY = [876,921,967,989,1034,1080];
svg.selectAll(".note").data(notes).enter().append("text").attr("x",22).attr("y",(d,i)=>noteY[i]).style("font-size","17.3px").text(d=>d);
</script></body></html>
